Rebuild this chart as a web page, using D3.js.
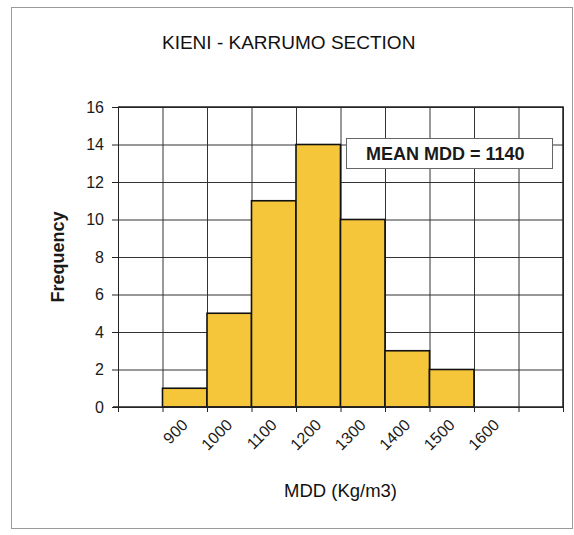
<!DOCTYPE html>
<html>
<head>
<meta charset="utf-8">
<script src="https://cdn.jsdelivr.net/npm/d3@7"></script>
<style>
  body { margin: 0; background: #fff; }
  svg { display: block; font-family: "Liberation Sans", Arial, sans-serif; }
  .axis path, .axis line { stroke: #222; }
  .grid line { stroke: #333; stroke-width: 1; }
  .grid path { display: none; }
</style>
</head>
<body>
<script>
// chart data
var binLabels = ["", "900", "1000", "1100", "1200", "1300", "1400", "1500", "1600", ""];
var frequency = [0, 1, 5, 11, 14, 10, 3, 2, 0, 0];
var yTicks = [0, 2, 4, 6, 8, 10, 12, 14, 16];
var chartTitle = "KIENI - KARRUMO SECTION";
var xTitle = "MDD (Kg/m3)";
var yTitle = "Frequency";
var meanLabel = "MEAN MDD = 1140";

var width = 574, height = 535;
var plotLeft = 118, plotRight = 563, plotTop = 107, plotBottom = 407;

var svg = d3.select("body").append("svg")
  .attr("width", width)
  .attr("height", height);

// outer frame of the scanned chart
svg.append("rect")
  .attr("x", 11.5).attr("y", 7.5)
  .attr("width", 561).attr("height", 521)
  .attr("fill", "#fff")
  .attr("stroke", "#9a9a9a");

var x = d3.scaleLinear()
  .domain([0, binLabels.length])
  .range([plotLeft, plotRight]);

var y = d3.scaleLinear()
  .domain([0, 16])
  .range([plotBottom, plotTop]);

// horizontal grid
svg.append("g")
  .attr("class", "grid")
  .attr("transform", "translate(" + plotLeft + ",0)")
  .call(d3.axisLeft(y).tickValues(yTicks).tickSize(-(plotRight - plotLeft)).tickFormat(""));

// vertical grid on bin edges
svg.append("g")
  .attr("class", "grid")
  .attr("transform", "translate(0," + plotBottom + ")")
  .call(d3.axisBottom(x).tickValues(d3.range(binLabels.length + 1)).tickSize(-(plotBottom - plotTop)).tickFormat(""));

// bars
svg.append("g").selectAll("rect")
  .data(frequency.map(function(f, i) { return { i: i, f: f }; }).filter(function(d) { return d.f > 0; }))
  .enter()
  .append("rect")
  .attr("x", function(d) { return x(d.i); })
  .attr("y", function(d) { return y(d.f); })
  .attr("width", function(d) { return x(d.i + 1) - x(d.i); })
  .attr("height", function(d) { return y(0) - y(d.f); })
  .attr("fill", "#f5c63a")
  .attr("stroke", "#111")
  .attr("stroke-width", 1.6);

// plot border top / right
svg.append("path")
  .attr("d", "M" + plotLeft + "," + plotTop + "H" + plotRight + "V" + plotBottom)
  .attr("fill", "none")
  .attr("stroke", "#222")
  .attr("stroke-width", 1.5);

// y axis
var yAxis = svg.append("g")
  .attr("class", "axis")
  .attr("transform", "translate(" + plotLeft + ",0)")
  .call(d3.axisLeft(y).tickValues(yTicks).tickSize(6).tickPadding(8).tickSizeOuter(0));
yAxis.selectAll("text")
  .attr("font-size", 16)
  .attr("fill", "#1a1a1a")
  .attr("font-family", "Liberation Sans, Arial, sans-serif");

// x axis
var xAxis = svg.append("g")
  .attr("class", "axis")
  .attr("transform", "translate(0," + plotBottom + ")")
  .call(d3.axisBottom(x).tickValues(d3.range(binLabels.length + 1)).tickSize(5).tickFormat("").tickSizeOuter(0));
xAxis.select("path").attr("stroke-width", 1.5).attr("d", "M" + (plotLeft - 5) + ",0H" + plotRight);

// rotated bin labels, centred on each bin
svg.append("g").selectAll("text")
  .data(binLabels.map(function(l, i) { return { i: i, l: l }; }).filter(function(d) { return d.l !== ""; }))
  .enter()
  .append("text")
  .attr("transform", function(d) {
    return "translate(" + (x(d.i + 0.5) + 4) + "," + (plotBottom + 19) + ") rotate(-45)";
  })
  .attr("text-anchor", "end")
  .attr("font-size", 16)
  .attr("fill", "#1a1a1a")
  .text(function(d) { return d.l; });

// titles
svg.append("text")
  .attr("x", 162).attr("y", 49)
  .attr("font-size", 19)
  .attr("fill", "#111")
  .text(chartTitle);

svg.append("text")
  .attr("x", (plotLeft + plotRight) / 2).attr("y", 497)
  .attr("text-anchor", "middle")
  .attr("font-size", 18.5)
  .attr("fill", "#111")
  .text(xTitle);

svg.append("text")
  .attr("transform", "translate(64," + ((plotTop + plotBottom) / 2) + ") rotate(-90)")
  .attr("text-anchor", "middle")
  .attr("font-size", 18)
  .attr("font-weight", "bold")
  .attr("fill", "#1a1a1a")
  .text(yTitle);

// mean annotation box
svg.append("rect")
  .attr("x", 346.5).attr("y", 138.5)
  .attr("width", 206).attr("height", 30)
  .attr("fill", "#fff")
  .attr("stroke", "#666")
  .attr("stroke-width", 1);

svg.append("text")
  .attr("x", 366).attr("y", 160)
  .attr("font-size", 18)
  .attr("font-weight", "bold")
  .attr("fill", "#1a1a1a")
  .text(meanLabel);
</script>
</body>
</html>
